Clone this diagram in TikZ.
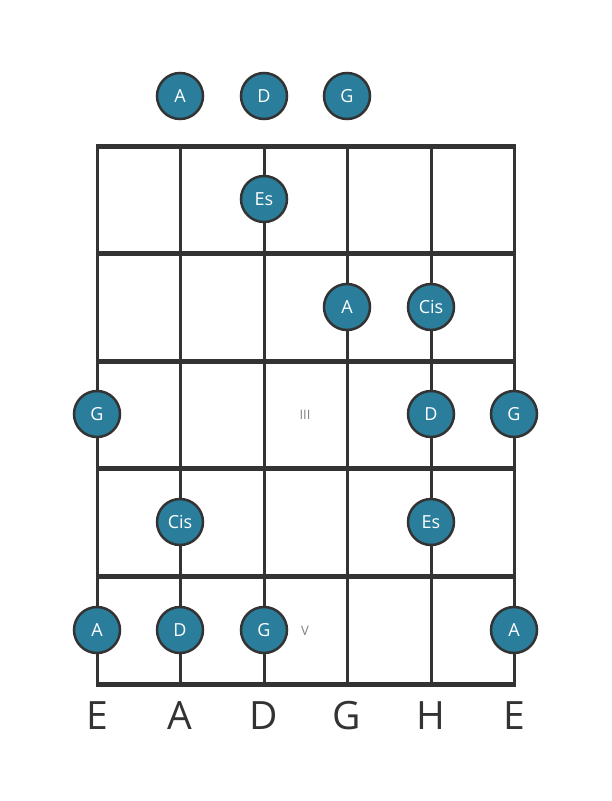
\documentclass[tikz,border=0pt]{standalone}
\usepackage{fontspec}
\setmainfont{Open Sans}
\definecolor{teal1}{HTML}{2A7E9C}
\definecolor{ink}{HTML}{333333}
\begin{document}
\begin{tikzpicture}[x=1pt,y=-1pt,
  fret/.style={ink,line width=5pt},
  str/.style={ink,line width=3pt},
  note/.style={circle,fill=teal1,draw=ink,line width=2.5pt,minimum size=46pt,inner sep=0pt,text=white,font=\fontsize{18}{18}\selectfont},
  strlabel/.style={text=ink,font=\fontsize{39}{39}\selectfont},
  roman/.style={text=gray,font=\fontsize{13}{13}\selectfont}]
\useasboundingbox (0,0) rectangle (611,801);
% strings
\foreach \x/\n in {97/s1,180/s2,264/s3,347/s4,431/s5,514/s6}{
  \coordinate (\n t) at (\x,146);
  \coordinate (\n b) at (\x,684);
  \draw[str] (\n t) -- (\n b);
}
% frets
\foreach \y/\n in {146/f0,253/f1,361/f2,468/f3,576/f4,684/f5}{
  \coordinate (\n l) at (95.5,\y);
  \coordinate (\n r) at (515.5,\y);
  \draw[fret] (\n l) -- (\n r);
}
% open strings
\node[note] (o1) at (180,96) {A};
\node[note] (o2) at (264,96) {D};
\node[note] (o3) at (347,96) {G};
% fret 1
\node[note] (n11) at (264,199) {Es};
% fret 2
\node[note] (n21) at (347,307) {A};
\node[note] (n22) at (431,307) {Cis};
% fret 3
\node[note] (n31) at (97,414) {G};
\node[note] (n32) at (431,414) {D};
\node[note] (n33) at (514,414) {G};
\node[roman] (r3) at (305,415) {III};
% fret 4
\node[note] (n41) at (180,522) {Cis};
\node[note] (n42) at (431,522) {Es};
% fret 5
\node[note] (n51) at (97,630) {A};
\node[note] (n52) at (180,630) {D};
\node[note] (n53) at (264,630) {G};
\node[note] (n54) at (514,630) {A};
\node[roman] (r5) at (305,631) {V};
% string labels
\foreach \x/\t/\n in {97/E/l1,180/A/l2,264/D/l3,347/G/l4,431/H/l5,514/E/l6}{
  \node[strlabel] (\n) at (\x,716) {\t};
}
\end{tikzpicture}
\end{document}
